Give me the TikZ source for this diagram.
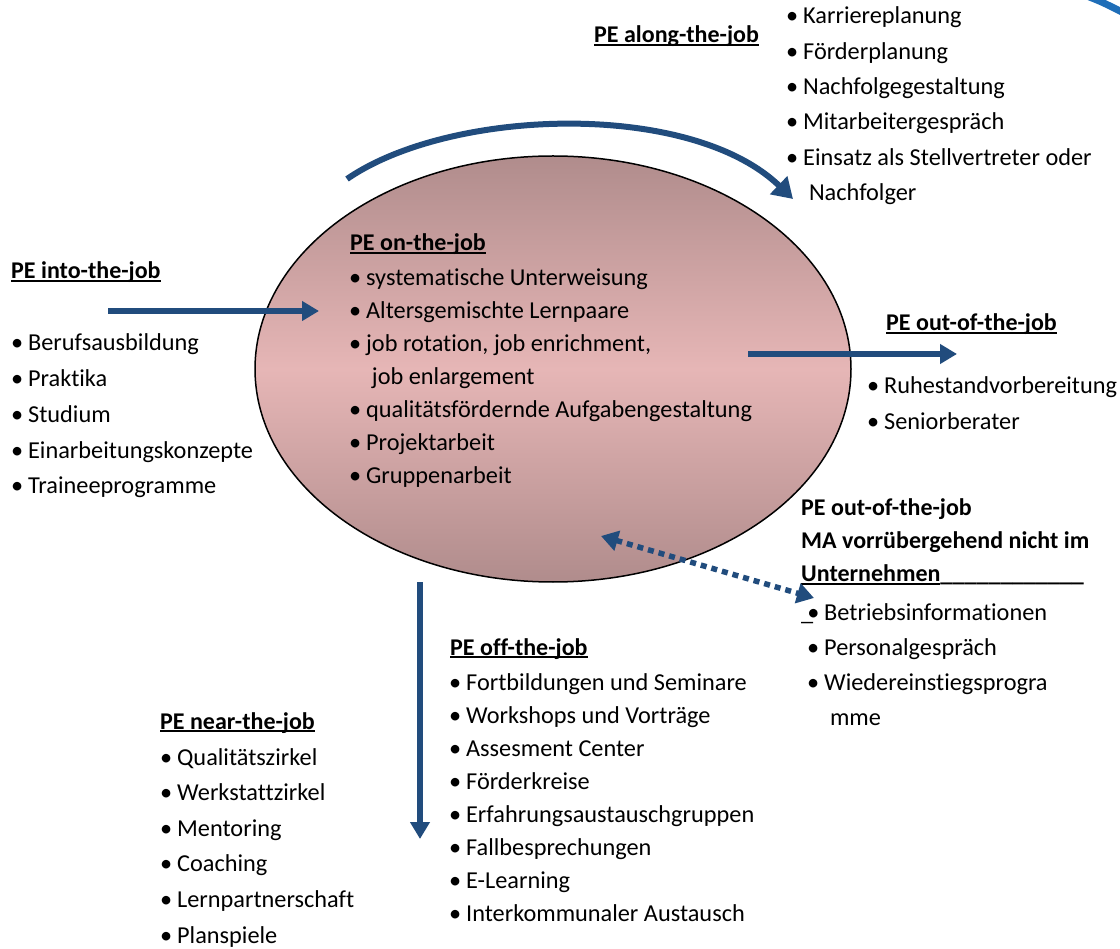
\documentclass[tikz,border=0pt]{standalone}
\usepackage{fontspec}
\setmainfont[Ligatures=NoCommon]{Carlito}
\usetikzlibrary{arrows.meta,shapes.geometric}

\definecolor{arrowblue}{RGB}{33,76,125}
\definecolor{cornerblue}{RGB}{31,110,184}
\definecolor{ovaltop}{RGB}{176,140,140}
\definecolor{ovalmid}{RGB}{230,182,182}

\newsavebox\hdbox
\newcommand\hd[1]{\sbox\hdbox{#1}\rlap{\rule[-0.13em]{\wd\hdbox}{0.07em}}\usebox\hdbox}
\newcommand\bl{\textbullet\hspace{0.2em}}
\newcommand\cont{\hphantom{\bl}\hspace{0.24em}}
\newcommand\rows[1]{\begin{tabular}[t]{@{}l@{}}#1\end{tabular}}

\tikzset{
  head/.style={anchor=base west,inner sep=0,font=\bfseries\fontsize{24}{35}\selectfont},
  lst/.style={anchor=base west,inner sep=0,font=\fontsize{24.3}{35.3}\selectfont},
  flow/.style={arrowblue,line width=6pt,-{Triangle[length=17pt,width=19pt]}}
}

\begin{document}
\begin{tikzpicture}[x=1pt,y=-1pt]
\useasboundingbox (0,0) rectangle (1120,949);

% the oval in the middle
\node[ellipse,draw,line width=1.5pt,minimum width=596pt,minimum height=426pt,inner sep=0,
  top color=ovaltop,bottom color=ovaltop,middle color=ovalmid] (oval) at (553,369) {};

% along
\node[head] (along) at (594,43) {\hd{PE along-the-job}};
\node[lst] (alonglist) at (786,24) {\rows{\bl Karriereplanung\\ \bl Förderplanung\\
  \bl Nachfolgegestaltung\\ \bl Mitarbeitergespräch\\ \bl Einsatz als Stellvertreter oder\\
  \cont Nachfolger}};

% on
\node[head] (on) at (350,251) {\hd{PE on-the-job}};
\node[lst,font=\fontsize{24.3}{33}\selectfont] (onlist) at (349,286) {\rows{\bl systematische Unterweisung\\
  \bl Altersgemischte Lernpaare\\ \bl job rotation, job enrichment,\\ \cont job enlargement\\
  \bl qualitätsfördernde Aufgabengestaltung\\ \bl Projektarbeit\\ \bl Gruppenarbeit}};

% into
\node[head] (into) at (11,279) {\hd{PE into-the-job}};
\node[lst,font=\fontsize{24.3}{35.7}\selectfont] (intolist) at (11,351) {\rows{\bl Berufsausbildung\\
  \bl Praktika\\ \bl Studium\\ \bl Einarbeitungskonzepte\\ \bl Traineeprogramme}};

% out
\node[head] (out) at (886,331) {\hd{PE out-of-the-job}};
\node[lst] (outlist) at (867,394) {\rows{\bl Ruhestandvorbereitung\\ \bl Seniorberater}};

% away
\node[head,font=\bfseries\fontsize{24}{33}\selectfont] (away) at (801,516) {\rows{PE out-of-the-job\\
  MA vorrübergehend nicht im\\ \hd{Unternehmen}\_\_\_\_\_\_\_\_\_\_\_\_}};
\node[lst] (awaylist) at (801,620) {\rows{\_\kern-0.25em\bl Betriebsinformationen\\
  \hphantom{\_}\kern-0.25em\bl Personalgespräch\\
  \hphantom{\_}\kern-0.25em\bl Wiedereinstiegsprogra\\ \hphantom{\_}\kern-0.25em\cont mme}};

% off
\node[head] (off) at (450,655) {\hd{PE off-the-job}};
\node[lst,font=\fontsize{24.3}{33}\selectfont] (offlist) at (449,690) {\rows{\bl Fortbildungen und Seminare\\
  \bl Workshops und Vorträge\\ \bl Assesment Center\\ \bl Förderkreise\\
  \bl Erfahrungsaustauschgruppen\\ \bl Fallbesprechungen\\ \bl E-Learning\\
  \bl Interkommunaler Austausch}};

% near
\node[head] (near) at (160,729) {\hd{PE near-the-job}};
\node[lst,font=\fontsize{24.3}{35.6}\selectfont] (nearlist) at (160,765) {\rows{\bl Qualitätszirkel\\
  \bl Werkstattzirkel\\ \bl Mentoring\\ \bl Coaching\\ \bl Lernpartnerschaft\\ \bl Planspiele}};

% arrows
\coordinate (intoS) at (108,311);
\coordinate (intoE) at (319,311);
\coordinate (outS) at (748,354);
\coordinate (outE) at (957,354);
\coordinate (offS) at (420,582);
\coordinate (offE) at (420,839);
\coordinate (alongS) at (347,179);
\coordinate (alongE) at (793,199);
\coordinate (awayA) at (601,536);
\coordinate (awayB) at (814,598);

\draw[flow] (intoS) -- (intoE);
\draw[flow] (outS) -- (outE);
\draw[flow] (offS) -- (offE);
\draw[flow,-{Triangle[length=20pt,width=24pt]}] (alongS) .. controls (450,108) and (690,100) .. (alongE);
\draw[arrowblue,line width=5.5pt,dash pattern=on 6pt off 5pt,
  {Triangle[length=17pt,width=20pt]}-{Triangle[length=17pt,width=20pt]}] (awayA) -- (awayB);

% piece in the corner
\draw[cornerblue,line width=7pt] (1087,-4) .. controls (1102,2) .. (1124,13);
\end{tikzpicture}
\end{document}
